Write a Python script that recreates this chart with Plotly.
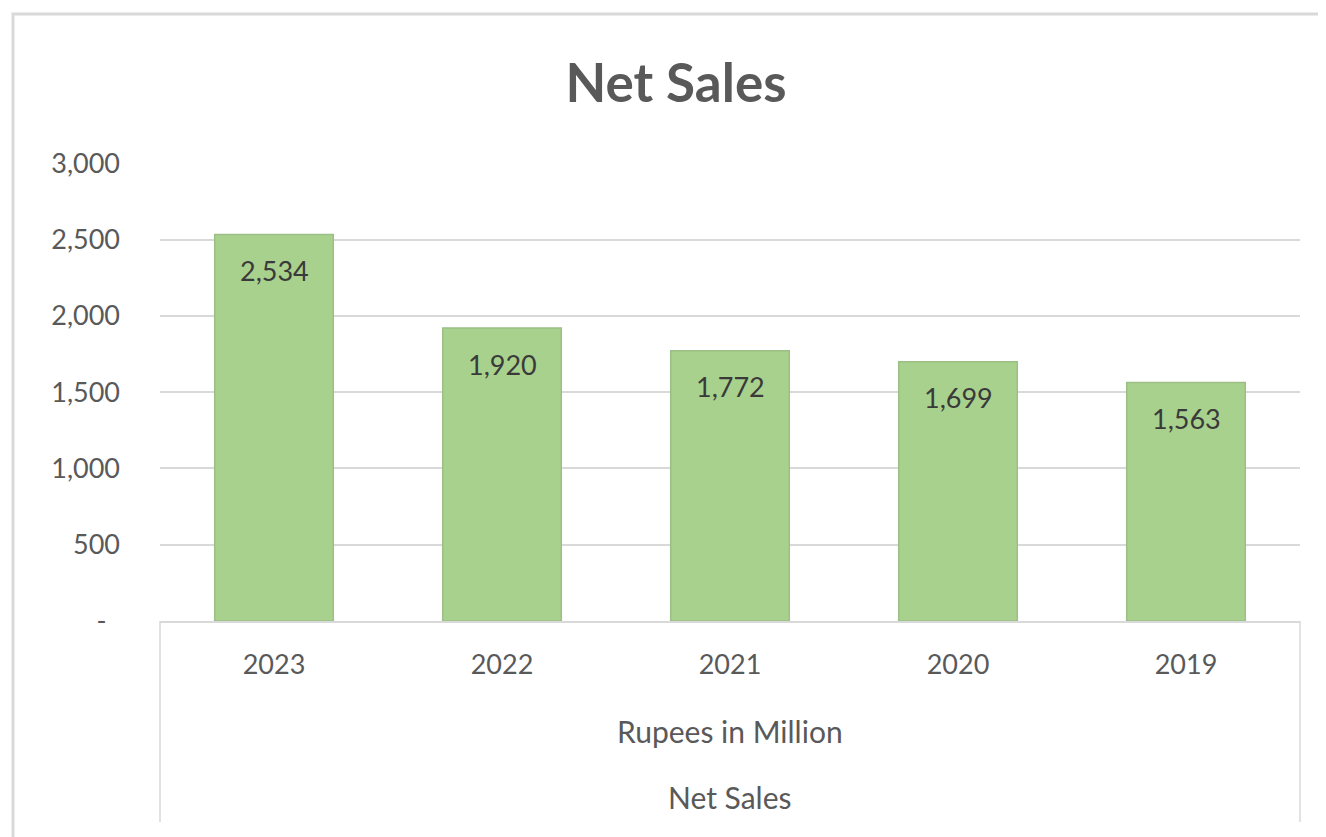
import plotly.graph_objects as go

years = ["2023", "2022", "2021", "2020", "2019"]
net_sales = [2534, 1920, 1772, 1699, 1563]
y_tick_vals = [0, 500, 1000, 1500, 2000, 2500, 3000]
y_tick_text = ["-\u2002", "500", "1,000", "1,500", "2,000", "2,500", "3,000"]
title_text = "Net Sales"
unit_label = "Rupees in Million"
series_label = "Net Sales"

FONT = "Lato"
OFF = 8  # page body margin
W, H = 1326 - OFF, 837 - OFF
L = 160 - OFF
T = 163 - OFF
B = H - (621 - OFF)
R = W - (1300 - OFF)
ph = H - T - B
pw = W - L - R

def py(px):
    # reference pixel y -> paper coordinate
    return ((621 - OFF) - (px - OFF)) / ph

def pxx(px):
    return ((px - OFF) - L) / pw

fig = go.Figure()
fig.add_trace(go.Bar(
    x=years, y=net_sales,
    marker=dict(color="#A9D18E", line=dict(color="#9bbf84", width=1.5)),
    hoverinfo="x+y",
))

for i, (yr, v) in enumerate(zip(years, net_sales)):
    fig.add_annotation(x=i, y=v, xref="x", yref="y", text=f"{v:,}",
                       showarrow=False, yshift=-36, yanchor="middle",
                       font=dict(family=FONT, size=27, color="#3a3a3a"))

fig.add_annotation(x=0.5, y=py(731), xref="paper", yref="paper", text=unit_label,
                   showarrow=False, yanchor="middle",
                   font=dict(family=FONT, size=30, color="#595959"))
fig.add_annotation(x=0.5, y=py(797), xref="paper", yref="paper", text=series_label,
                   showarrow=False, yanchor="middle",
                   font=dict(family=FONT, size=30, color="#595959"))

grid = "#d9d9d9"
for xd in (0, 1):
    fig.add_shape(type="line", xref="x domain", yref="paper", x0=xd, x1=xd,
                  y0=0, y1=py(822), line=dict(color=grid, width=1.5))

fig.add_shape(type="rect", xref="paper", yref="paper",
              x0=pxx(13), x1=pxx(1345), y0=py(14), y1=py(870),
              line=dict(color=grid, width=3), layer="below")

fig.update_layout(
    width=W, height=H,
    margin=dict(l=L, r=R, t=T, b=B, autoexpand=False),
    paper_bgcolor="white", plot_bgcolor="white",
    bargap=0.48,
    showlegend=False,
    title=dict(text=f"<b>{title_text}</b>", x=(676 - OFF) / W, xanchor="center",
               y=1 - (83 - OFF) / H, yanchor="middle", yref="container",
               font=dict(family=FONT, size=53, color="#595959")),
    xaxis=dict(type="category", categoryorder="array", categoryarray=years,
               range=[-0.5, len(years) - 0.5],
               showline=True, linecolor=grid, linewidth=1.5,
               showgrid=False, ticks="", ticklabelstandoff=19,
               tickfont=dict(family=FONT, size=27, color="#595959")),
    yaxis=dict(range=[0, 3002], tickvals=y_tick_vals, ticktext=y_tick_text,
               showgrid=True, gridcolor=grid, gridwidth=1.5, zeroline=False,
               showline=False, ticks="", ticklabelstandoff=39,
               tickfont=dict(family=FONT, size=27, color="#595959")),
)

fig.write_html("out.html")
